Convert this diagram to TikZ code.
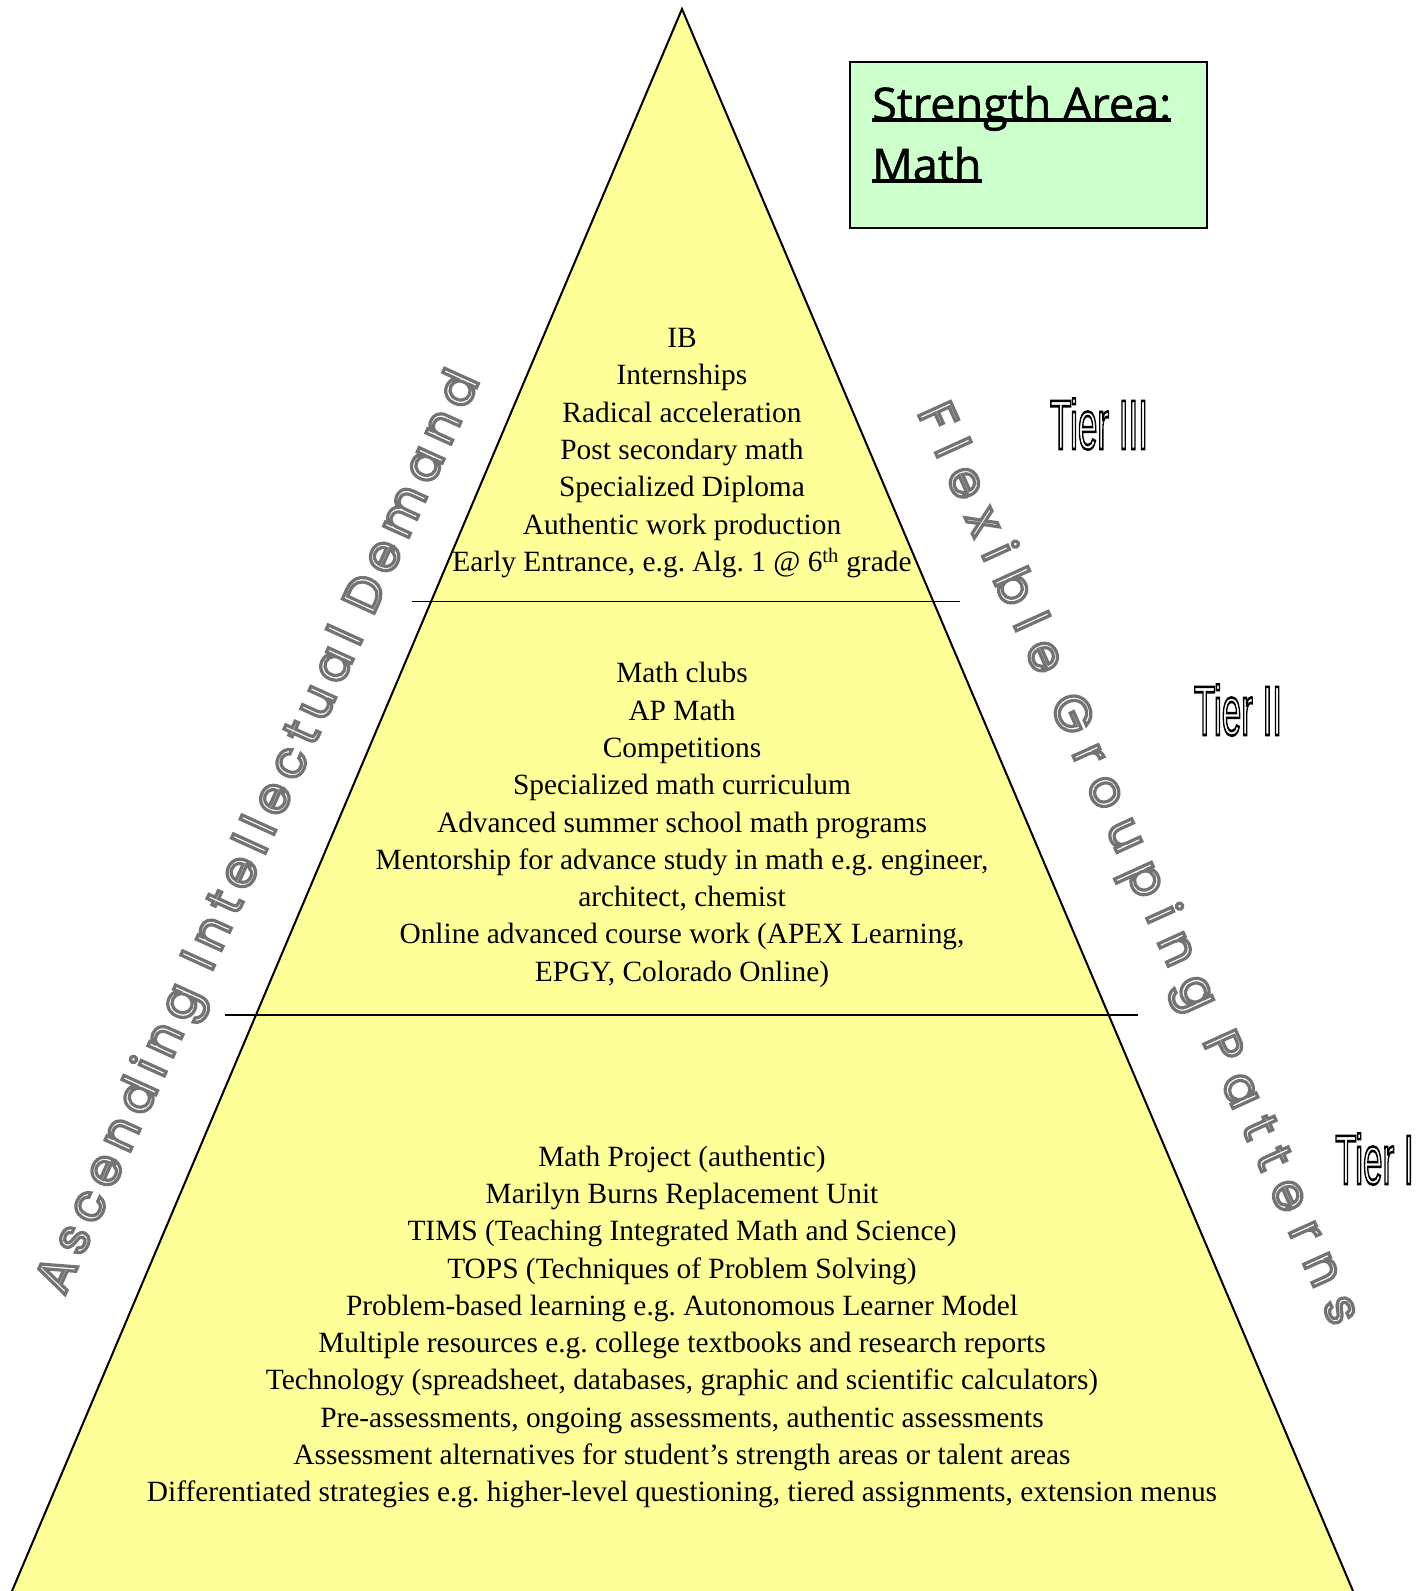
\documentclass[tikz,border=0pt]{standalone}
\usepackage{fontspec}
\setmainfont{Liberation Serif}
\newfontfamily\tierfont{Liberation Sans}
\newfontfamily\geoA[LetterSpace=17]{Poppins}
\newfontfamily\geoB[LetterSpace=31]{Poppins}
\newfontfamily\boxfont[FakeBold=1.2]{Open Sans}
\newcommand\outlinetxt[2]{\special{pdf:literal direct 1 Tr #1 w}#2\special{pdf:literal direct 0 Tr}}
\definecolor{pyellow}{HTML}{FFFF99}
\definecolor{pgreen}{HTML}{CCFFCC}
\tikzset{
  tiertext/.style={align=center, inner sep=0pt, font=\frenchspacing\fontsize{29.4}{37.3}\selectfont},
  tierlabel/.style={inner sep=0pt, font=\tierfont\fontsize{70}{70}\selectfont},
  sidetext/.style={inner sep=0pt, text=black!55, font=\fontsize{50}{50}\selectfont},
  boxtext/.style={anchor=base west, inner sep=0pt, font=\boxfont\fontsize{45}{45}\selectfont},
  uline/.style={line width=3.5pt, yshift=-6pt},
  divider/.style={line width=1.5pt}
}
\begin{document}
\begin{tikzpicture}[x=1pt,y=-1pt]
\useasboundingbox (0,0) rectangle (1416,1591);
\clip (0,0) rectangle (1416,1591);
% pyramid
\coordinate (apex) at (682,9);
\coordinate (bl) at (12,1591);
\coordinate (br) at (1353,1591);
\fill[pyellow] (bl) -- (apex) -- (br) -- cycle;
\draw[line width=2pt, line join=miter] (bl) -- (apex) -- (br);
% dividers
\coordinate (d1a) at (412,601.5);
\coordinate (d1b) at (960,601.5);
\coordinate (d2a) at (225,1015);
\coordinate (d2b) at (1138,1015);
\draw[divider] (d1a) -- (d1b);
\draw[divider] (d2a) -- (d2b);
% strength box
\node[draw=black, line width=1.5pt, fill=pgreen, minimum width=357pt, minimum height=166pt, anchor=north west, inner sep=0pt] (box) at (849,61) {};
\node[boxtext] (box1) at (872,120) {Strength Area:};
\node[boxtext] (box2) at (872,181) {Math};
\draw[uline] (box1.base west) -- (box1.base east);
\draw[uline] (box2.base west) -- (box2.base east);
% tier texts
\node[tiertext] (t3) at (682,453) {IB\\Internships\\Radical acceleration\\Post secondary math\\Specialized Diploma\\Authentic work production\\Early Entrance, e.g. Alg. 1 @ 6\textsuperscript{th} grade};
\node[tiertext] (t2) at (682,825) {Math clubs\\AP Math\\Competitions\\Specialized math curriculum\\Advanced summer school math programs\\Mentorship for advance study in math e.g. engineer,\\architect, chemist\\Online advanced course work (APEX Learning,\\EPGY, Colorado Online)};
\node[tiertext] (t1) at (682,1327) {Math Project (authentic)\\Marilyn Burns Replacement Unit\\TIMS (Teaching Integrated Math and Science)\\TOPS (Techniques of Problem Solving)\\Problem-based learning e.g. Autonomous Learner Model\\Multiple resources e.g. college textbooks and research reports\\Technology (spreadsheet, databases, graphic and scientific calculators)\\Pre-assessments, ongoing assessments, authentic assessments\\Assessment alternatives for student's strength areas or talent areas\\Differentiated strategies e.g. higher-level questioning, tiered assignments, extension menus};
% tier labels
\node[tierlabel] (l3) at (1099,424) {\scalebox{0.5}[1]{\outlinetxt{2.6}{Tier III}}};
\node[tierlabel] (l2) at (1238,710) {\scalebox{0.5}[1]{\outlinetxt{2.6}{Tier II}}};
\node[tierlabel, anchor=west] (l1) at (1335,1159) {\scalebox{0.5}[1]{\outlinetxt{2.6}{Tier I}}};
% side texts
\node[sidetext, rotate=65.6] (asc) at (261,833) {\geoA\outlinetxt{3.2}{Ascending Intellectual Demand}};
\node[sidetext, rotate=-65.6] (flex) at (1136,865) {\geoB\outlinetxt{3.2}{Flexible Grouping Patterns}};
\end{tikzpicture}
\end{document}
